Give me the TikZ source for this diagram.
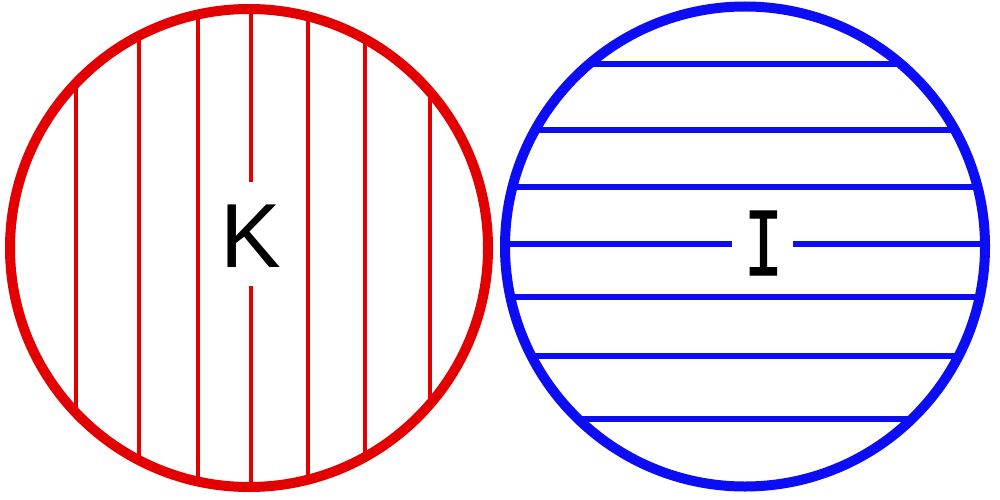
\documentclass[tikz,border=0pt]{standalone}
\usepackage{fontspec}
\setmainfont{Liberation Sans}
\newfontfamily\monofont[FakeBold=1.2]{DejaVu Sans Mono}
\definecolor{kred}{RGB}{226,0,0}
\definecolor{iblue}{RGB}{12,12,245}
\begin{document}
\begin{tikzpicture}[x=1pt,y=-1pt,
  redhatch/.style={draw=kred,line width=4pt},
  bluehatch/.style={draw=iblue,line width=6pt},
  kring/.style={draw=kred,line width=10pt},
  iring/.style={draw=iblue,line width=10pt},
  letter/.style={inner sep=0pt,anchor=base,text=black}]
\useasboundingbox (0,0) rectangle (1000,500);
\coordinate (kc) at (249,248);
\coordinate (ic) at (745,246.5);
% red circle with vertical hatching
\begin{scope}
  \clip (kc) circle[radius=239pt];
  \foreach \x in {76,139,198,308,365,430}
    \draw[redhatch] (\x,0) -- (\x,500);
  \draw[redhatch] (251,0) -- (251,182);
  \draw[redhatch] (251,286) -- (251,500);
\end{scope}
\draw[kring] (kc) circle[radius=239pt];
\node[letter,font=\fontsize{91}{91}\selectfont] (k) at (251,267) {K};
% blue circle with horizontal hatching
\begin{scope}
  \clip (ic) circle[radius=240pt];
  \foreach \y in {64,130,187,297,356,419}
    \draw[bluehatch] (500,\y) -- (1000,\y);
  \draw[bluehatch] (500,244) -- (732,244);
  \draw[bluehatch] (793,244) -- (1000,244);
\end{scope}
\draw[iring] (ic) circle[radius=240pt];
\node[letter,xscale=0.75,font=\monofont\fontsize{88}{88}\selectfont] (i) at (763.5,275) {I};
\end{tikzpicture}
\end{document}
